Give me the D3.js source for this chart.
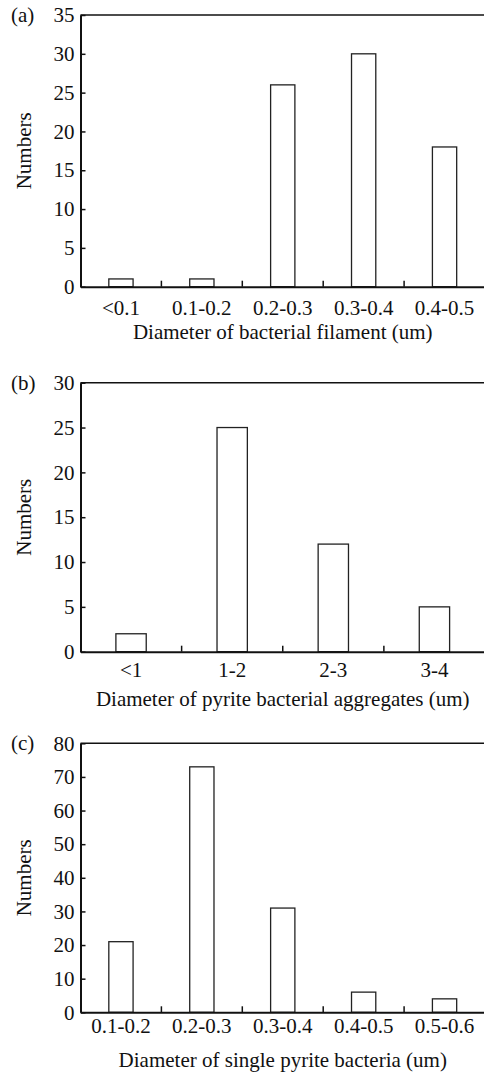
<!DOCTYPE html>
<meta charset="utf-8">
<script src="https://d3js.org/d3.v7.min.js"></script>
<style>
    body { margin: 0; background: #fff; }
    text { font-family: "Liberation Serif", "Times New Roman", serif; fill: #111; }
</style>
<div id="my_dataviz"></div>
<script>
    // data
    var catsA = ["<0.1", "0.1-0.2", "0.2-0.3", "0.3-0.4", "0.4-0.5"];
    var valsA = [1, 1, 26, 30, 18];
    var ticksA = [0, 5, 10, 15, 20, 25, 30, 35];

    var catsB = ["<1", "1-2", "2-3", "3-4"];
    var valsB = [2, 25, 12, 5];
    var ticksB = [0, 5, 10, 15, 20, 25, 30];

    var catsC = ["0.1-0.2", "0.2-0.3", "0.3-0.4", "0.4-0.5", "0.5-0.6"];
    var valsC = [21, 73, 31, 6, 4];
    var ticksC = [0, 10, 20, 30, 40, 50, 60, 70, 80];

    var width = 484, height = 1075;
    var fontSize = 21;

    var svg = d3.select("#my_dataviz")
        .append("svg")
        .attr("width", width)
        .attr("height", height);

    // one panel per figure part
    var panels = [
        { tag: "(a)", cats: catsA, vals: valsA, ticks: ticksA, title: "Diameter of bacterial filament (um)",
          top: 15, bottom: 286.7, pad: 13, titleY: 339 },
        { tag: "(b)", cats: catsB, vals: valsB, ticks: ticksB, title: "Diameter of pyrite bacterial aggregates (um)",
          top: 382.7, bottom: 651.7, pad: 10, titleY: 706 },
        { tag: "(c)", cats: catsC, vals: valsC, ticks: ticksC, title: "Diameter of single pyrite bacteria (um)",
          top: 743.3, bottom: 1012.3, pad: 6, titleY: 1067 }
    ];

    var left = 80.5, right = 485;

    panels.forEach(function (p) {
        var g = svg.append("g");

        var x = d3.scaleBand()
            .domain(p.cats)
            .range([left, right])
            .padding(0);

        var y = d3.scaleLinear()
            .domain([0, p.ticks[p.ticks.length - 1]])
            .range([p.bottom, p.top]);

        // bars
        var barW = x.bandwidth() * 0.3;
        g.selectAll("rect")
            .data(p.vals)
            .enter()
            .append("rect")
            .attr("x", function (d, i) { return x(p.cats[i]) + x.bandwidth() / 2 - barW / 2; })
            .attr("y", function (d) { return y(d); })
            .attr("width", barW)
            .attr("height", function (d) { return p.bottom - y(d); })
            .style("fill", "#fff")
            .style("stroke", "#222")
            .style("stroke-width", 1.3);

        // top frame line
        g.append("line")
            .attr("x1", left).attr("x2", width)
            .attr("y1", y(p.ticks[p.ticks.length - 1])).attr("y2", y(p.ticks[p.ticks.length - 1]))
            .style("stroke", "#111").style("stroke-width", 1.6);

        // Y axis, ticks pointing inward
        var yAxis = g.append("g")
            .attr("transform", "translate(" + left + ",0)")
            .call(d3.axisLeft(y).tickValues(p.ticks).tickSize(-5).tickSizeOuter(0).tickPadding(6));

        // X axis labels
        var xAxis = g.append("g")
            .attr("transform", "translate(0," + p.bottom + ")")
            .call(d3.axisBottom(x).tickSize(0).tickSizeOuter(0).tickPadding(p.pad));

        [yAxis, xAxis].forEach(function (a) {
            a.selectAll("path").style("stroke", "#111").style("stroke-width", 2);
            a.selectAll("line").style("stroke", "#111").style("stroke-width", 1.5);
            a.selectAll("text").style("font-family", "Liberation Serif").style("font-size", fontSize + "px").style("fill", "#111");
        });

        // boundary ticks between categories, pointing up
        g.selectAll(".btick")
            .data(p.cats.slice(1))
            .enter()
            .append("line")
            .attr("x1", function (d) { return x(d); })
            .attr("x2", function (d) { return x(d); })
            .attr("y1", p.bottom)
            .attr("y2", p.bottom - 6)
            .style("stroke", "#111").style("stroke-width", 1.5);

        // axis titles
        g.append("text")
            .attr("x", (left + right) / 2)
            .attr("y", p.titleY)
            .attr("text-anchor", "middle")
            .style("font-size", fontSize + "px")
            .text(p.title);

        g.append("text")
            .attr("transform", "translate(31," + (p.top + p.bottom) / 2 + ") rotate(-90)")
            .attr("text-anchor", "middle")
            .style("font-size", fontSize + "px")
            .text("Numbers");

        g.append("text")
            .attr("x", 11)
            .attr("y", p.top + 7)
            .style("font-size", fontSize + "px")
            .text(p.tag);
    });
</script>
